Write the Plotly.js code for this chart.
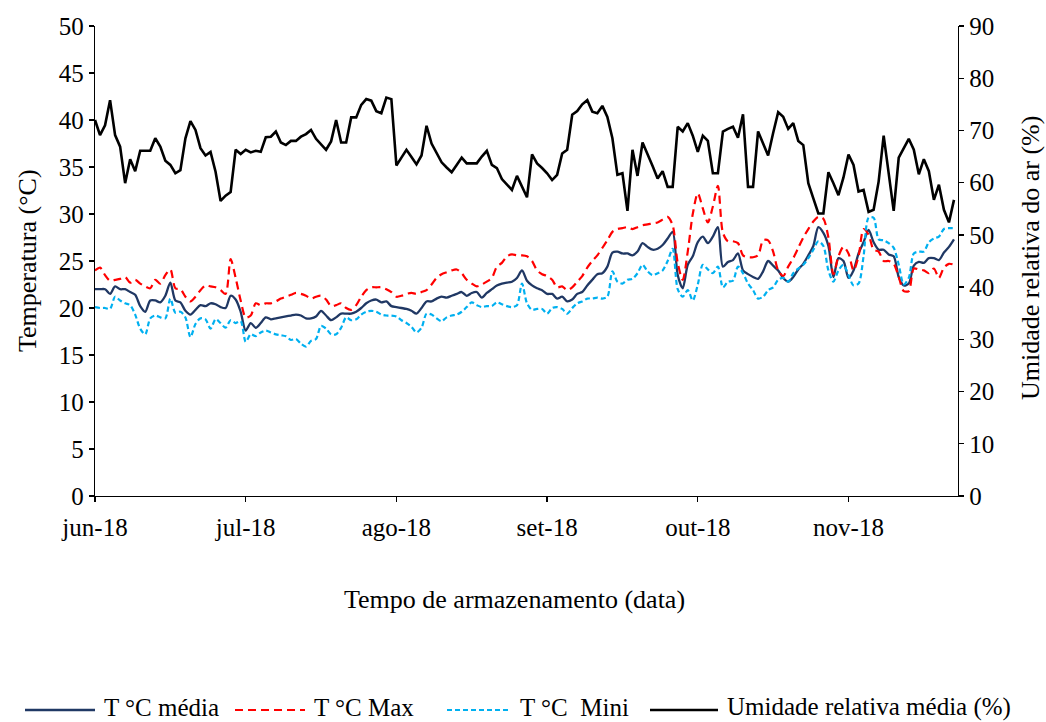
<!DOCTYPE html>
<html>
<head>
<meta charset="utf-8">
<script src="https://cdn.plot.ly/plotly-3.0.1.min.js"></script>
<style>
  html, body { margin: 0; padding: 0; background: #fff; }
  #chart { width: 1046px; height: 722px; }
</style>
</head>
<body>
<div id="chart"></div>
<script>
// Daily readings during storage (one value per day, in order)
const tickPositions = [0, 30, 60, 90, 120, 150];
const tickLabels = ['jun-18', 'jul-18', 'ago-18', 'set-18', 'out-18', 'nov-18'];

const tempMedia = [
  22.0, 22.0, 22.0, 21.5, 22.3, 22.0, 22.0, 21.7, 21.4, 20.2,
  19.6, 20.8, 20.8, 20.6, 21.3, 22.7, 20.8, 20.6, 19.7, 19.3,
  19.8, 20.3, 20.2, 20.5, 20.4, 20.1, 20.0, 21.3, 20.9, 19.6,
  17.6, 18.4, 17.9, 18.4, 19.0, 18.8, 18.9, 19.0, 19.1, 19.2,
  19.3, 19.2, 18.9, 18.9, 19.1, 19.7, 19.2, 18.7, 19.0, 19.4,
  19.4, 19.4, 19.6, 20.0, 20.5, 20.8, 20.9, 20.6, 20.7, 20.2,
  20.1, 20.0, 19.9, 19.7, 19.4, 20.0, 20.7, 20.7, 21.0, 21.2,
  21.1, 21.3, 21.5, 21.7, 21.3, 21.6, 21.7, 21.1, 21.6, 22.0,
  22.4, 22.6, 22.7, 22.8, 23.2, 24.0, 22.9, 22.4, 22.1, 21.9,
  21.5, 21.5, 21.0, 21.2, 20.7, 20.9, 21.5, 21.7, 22.4, 23.0,
  23.6, 23.7, 24.4, 25.9, 26.0, 25.8, 25.8, 25.6, 26.0, 26.9,
  26.5, 26.2, 26.3, 26.7, 27.4, 28.1, 23.5, 22.1, 24.6, 25.5,
  27.0, 27.6, 26.9, 27.6, 28.6, 24.4, 24.9, 25.1, 25.8, 24.0,
  23.6, 23.3, 23.1, 23.9, 25.0, 24.5, 24.0, 23.2, 22.8, 23.3,
  24.1, 24.7, 25.6, 26.6, 28.6, 28.0, 26.6, 23.3, 25.3, 25.0,
  23.2, 24.0, 25.8, 27.0, 28.3, 27.0, 26.2, 26.2, 25.7, 25.5,
  23.3, 22.4, 22.6, 24.5, 24.9, 24.8, 25.3, 25.3, 25.1, 25.9,
  26.5, 27.3
];

const tempMax = [
  24.0, 24.3, 23.5, 22.9, 23.0, 23.1, 23.3, 22.7, 23.0, 22.6,
  22.3, 22.1, 23.0, 22.6, 23.5, 24.1, 22.1, 22.0, 21.2, 20.7,
  21.2, 21.9, 22.4, 22.3, 22.2, 21.9, 21.5, 25.2, 23.2, 20.8,
  19.0, 19.2, 20.5, 20.3, 20.5, 20.5, 20.7, 21.0, 21.2, 21.4,
  21.6, 21.5, 21.3, 21.0, 21.2, 21.3, 20.9, 20.2, 20.3, 20.5,
  20.0, 19.8, 20.3, 21.2, 21.9, 22.2, 22.2, 22.2, 22.0, 21.7,
  21.2, 21.3, 21.5, 21.6, 21.5, 21.7, 21.9, 22.5, 23.2, 23.6,
  23.8, 24.0, 24.1, 23.7, 23.0, 22.6, 22.3, 22.5, 22.8, 23.2,
  24.4, 24.8, 25.5, 25.7, 25.6, 25.6, 25.5, 25.0, 24.0, 23.6,
  23.4, 23.0, 22.2, 22.3, 21.9, 22.2, 22.8, 23.4, 24.3, 25.0,
  25.6, 26.4, 27.2, 28.1, 28.4, 28.5, 28.6, 28.4, 28.6, 28.8,
  28.9, 29.0, 29.1, 29.4, 29.7, 28.8, 24.8, 23.0, 26.0, 30.0,
  32.2, 30.6, 29.1, 30.8, 33.0, 28.0, 27.1, 27.1, 26.9, 25.6,
  25.4, 25.4, 25.6, 27.2, 27.2, 26.0, 24.0, 23.4, 24.4, 25.3,
  26.4, 27.5, 28.4, 29.2, 29.7, 29.5, 27.5, 23.6, 25.5, 26.5,
  25.8, 24.0, 25.5, 28.4, 27.8, 26.2, 26.0, 25.0, 25.0, 24.7,
  23.3, 21.8, 21.8, 24.2, 24.1, 24.0, 23.7, 24.2, 23.2, 24.3,
  24.7, 24.6
];

const tempMin = [
  20.1, 20.0, 20.0, 19.9, 21.2, 20.8, 20.5, 20.3, 19.3, 17.8,
  17.2, 18.9, 19.2, 19.0, 18.9, 21.0, 19.5, 19.6, 19.0, 16.9,
  18.3, 18.9, 18.8, 17.8, 18.8, 18.4, 17.9, 18.7, 18.4, 18.6,
  16.4, 17.2, 17.0, 17.4, 17.6, 17.4, 17.2, 17.1, 17.0, 16.6,
  16.7, 16.2, 15.9, 16.5, 16.7, 18.1, 17.8, 17.2, 17.2, 17.9,
  19.0, 18.7, 18.8, 19.3, 19.6, 19.7, 19.6, 19.3, 19.2, 19.2,
  19.1, 18.7, 18.4, 18.0, 17.4, 17.9, 19.4, 19.3, 18.9, 18.6,
  19.0, 19.2, 19.3, 19.6, 20.1, 20.6, 20.3, 20.1, 20.2, 20.2,
  20.6, 20.4, 20.2, 20.1, 20.3, 22.6, 20.5, 19.8, 19.9, 19.9,
  19.4, 20.0, 20.1, 19.9, 19.4, 20.0, 20.5, 20.7, 21.0, 21.0,
  21.1, 21.0, 21.2, 23.9, 22.8, 22.6, 23.0, 23.1, 23.7, 24.6,
  23.9, 23.5, 23.7, 24.0, 25.0, 26.3, 22.0, 21.2, 21.9, 20.8,
  22.5, 24.6, 24.1, 23.7, 24.4, 22.2, 22.8, 22.9, 24.4, 23.7,
  22.6, 21.9, 21.0, 21.2, 21.9, 22.2, 23.0, 23.2, 22.8, 23.7,
  24.2, 24.6, 25.3, 26.2, 27.1, 26.6, 24.0, 22.8, 24.0, 24.6,
  23.5, 22.4, 22.6, 25.5, 29.6, 29.6, 27.3, 27.2, 26.9, 26.4,
  24.6, 22.5, 23.2, 25.8, 26.0, 26.0, 27.0, 27.4, 27.6, 28.4,
  28.5, 28.5
];

const umidadeMedia = [
  72.0, 69.1, 71.0, 75.8, 69.1, 66.9, 59.9, 64.5, 62.2, 66.1,
  66.1, 66.1, 68.5, 66.9, 64.2, 63.4, 61.8, 62.4, 68.5, 71.8,
  70.1, 66.6, 65.2, 65.9, 62.1, 56.5, 57.5, 58.2, 66.3, 65.5,
  66.3, 65.8, 66.1, 65.9, 68.7, 68.8, 69.8, 67.7, 67.2, 68.0,
  68.0, 68.8, 69.3, 70.1, 68.4, 67.3, 66.3, 67.9, 72.0, 67.7,
  67.7, 72.5, 72.5, 74.9, 76.0, 75.7, 73.7, 73.3, 76.3, 76.0,
  63.3, 64.8, 66.3, 64.9, 63.5, 65.2, 70.9, 67.5, 65.6, 63.9,
  62.9, 62.0, 63.4, 64.8, 63.7, 63.7, 63.7, 65.0, 66.1, 63.4,
  62.8, 60.7, 59.7, 58.6, 61.3, 59.2, 57.2, 65.4, 63.7, 62.8,
  61.8, 60.5, 61.5, 65.6, 66.3, 73.0, 73.7, 75.0, 75.8, 73.6,
  73.3, 74.7, 72.6, 68.5, 61.5, 61.8, 54.6, 66.3, 61.3, 67.7,
  65.6, 63.2, 60.8, 62.2, 59.2, 59.2, 70.7, 69.8, 71.4, 69.0,
  65.9, 69.0, 68.0, 61.8, 61.8, 69.8, 70.3, 70.7, 68.6, 73.1,
  59.2, 59.2, 69.8, 67.3, 65.2, 69.5, 73.5, 72.6, 70.3, 71.4,
  68.0, 67.2, 59.9, 57.0, 54.1, 54.1, 62.0, 59.9, 57.6, 61.0,
  65.4, 63.4, 58.3, 58.6, 54.4, 54.8, 60.2, 69.0, 61.8, 54.6,
  64.8, 66.6, 68.4, 66.3, 61.6, 64.5, 62.2, 56.7, 59.6, 54.8,
  52.4, 56.7
];

const seriesNames = ['T °C média', 'T °C Max', 'T °C  Mini', 'Umidade relativa média (%)'];

// ---- drawing ----
const FONT = 'Liberation Serif, Times New Roman, serif';
const TEXT_SIZE = 26;
const W = 1046, H = 722;
const M = { l: 95, r: 88, t: 26, b: 226 };
const plotW = W - M.l - M.r, plotH = H - M.t - M.b;
const px2x = p => (p - M.l) / plotW;
const px2y = p => (H - M.b - p) / plotH;

const dayIndex = tempMedia.map((_, i) => i);

const styles = [
  { color: '#203864', width: 2.3, dash: 'solid', shape: 'spline' },
  { color: '#FF0000', width: 2.2, dash: '8px,5px', shape: 'spline' },
  { color: '#00B0F0', width: 2.2, dash: '5px,3px', shape: 'spline' },
  { color: '#000000', width: 2.6, dash: 'solid', shape: 'linear' }
];
const values = [tempMedia, tempMax, tempMin, umidadeMedia];

const traces = values.map((v, k) => ({
  type: 'scatter',
  mode: 'lines',
  name: seriesNames[k],
  x: dayIndex,
  y: v,
  yaxis: k === 3 ? 'y2' : 'y',
  line: { color: styles[k].color, width: styles[k].width, dash: styles[k].dash,
          shape: styles[k].shape, smoothing: 0.8 },
  showlegend: false,
  hoverinfo: 'skip'
}));

// legend drawn below the plot
const legendY = 710;
const legendItems = [
  { x0: 25, x1: 95, tx: 103 },
  { x0: 235, x1: 305, tx: 313 },
  { x0: 447, x1: 511, tx: 519 },
  { x0: 650, x1: 718, tx: 726 }
];
const shapes = legendItems.map((it, k) => ({
  type: 'line', xref: 'paper', yref: 'paper',
  x0: px2x(it.x0), x1: px2x(it.x1), y0: px2y(legendY), y1: px2y(legendY),
  line: { color: styles[k].color, width: styles[k].width, dash: styles[k].dash }
}));
const textFont = { family: FONT, size: TEXT_SIZE, color: '#000' };
const legendFont = { family: FONT, size: 25, color: '#000' };
const annotations = legendItems.map((it, k) => ({
  xref: 'paper', yref: 'paper', x: px2x(it.tx), y: px2y(722),
  xanchor: 'left', yanchor: 'bottom', showarrow: false, borderpad: 0,
  text: seriesNames[k], font: legendFont
}));
annotations.push(
  { xref: 'paper', yref: 'paper', x: px2x(514), y: px2y(600), showarrow: false,
    xanchor: 'center', yanchor: 'middle',
    text: 'Tempo de armazenamento (data)', font: textFont },
  { xref: 'paper', yref: 'paper', x: px2x(27), y: px2y(261), showarrow: false,
    xanchor: 'center', yanchor: 'middle', textangle: -90,
    text: 'Temperatura (°C)', font: textFont },
  { xref: 'paper', yref: 'paper', x: px2x(1030), y: px2y(258), showarrow: false,
    xanchor: 'center', yanchor: 'middle', textangle: -90,
    text: 'Umidade relativa do ar (%)', font: textFont }
);

const axisCommon = {
  showgrid: false, zeroline: false, showline: true, linecolor: '#000', linewidth: 1.3,
  ticks: 'outside', ticklen: 5, tickcolor: '#000', tickwidth: 1.3,
  tickfont: { family: FONT, size: 25, color: '#000' }, fixedrange: true
};

const layout = {
  width: W, height: H,
  margin: M,
  paper_bgcolor: '#fff', plot_bgcolor: '#fff',
  showlegend: false,
  xaxis: Object.assign({}, axisCommon, {
    range: [0, 171.8], tickmode: 'array', tickvals: tickPositions, ticktext: tickLabels,
    ticklabelstandoff: 4
  }),
  yaxis: Object.assign({}, axisCommon, {
    range: [0, 50], tickmode: 'linear', tick0: 0, dtick: 5
  }),
  yaxis2: Object.assign({}, axisCommon, {
    range: [0, 90], tickmode: 'linear', tick0: 0, dtick: 10,
    overlaying: 'y', side: 'right'
  }),
  shapes: shapes,
  annotations: annotations
};

Plotly.newPlot('chart', traces, layout, { staticPlot: true, displayModeBar: false });
</script>
</body>
</html>
